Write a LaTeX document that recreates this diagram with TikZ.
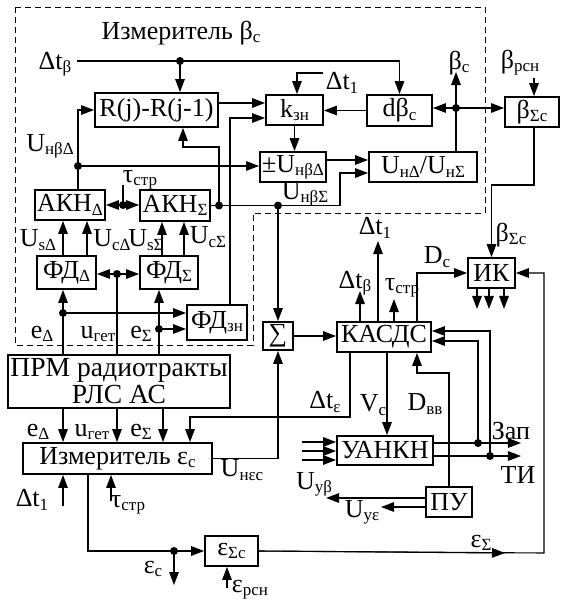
\documentclass[tikz,border=0pt]{standalone}
\usepackage{fontspec}
\setmainfont{Liberation Serif}
\usetikzlibrary{arrows.meta}
\newcommand{\ix}[1]{\raisebox{-1.6pt}{\fontsize{8.5}{9}\selectfont #1}}
\tikzset{
  blk/.style={draw, line width=0.95pt, inner sep=1pt, font=\fontsize{13}{14}\selectfont},
  lbl/.style={inner sep=0pt, font=\fontsize{13}{14}\selectfont},
  arr/.style={-{Triangle[length=6.5pt,width=4.8pt]}},
}
\begin{document}
\begin{tikzpicture}[x=0.5pt,y=-0.5pt,line width=0.55pt]
    \useasboundingbox (0,0) rectangle (562,600);
    % dashed frame of the beta meter
    \draw[dash pattern=on 3pt off 2pt,line width=0.5pt] (15,7) -- (485,7) -- (485,213) -- (253,213) -- (253,345) -- (15,345) -- cycle;
    \node[lbl] (tbeta) at (181,33) {Измеритель β\ix{c}};
    % blocks
    \node[blk,minimum width=61.5pt,minimum height=17pt] (R) at (156.5,110) {R(j)-R(j-1)};
    \node[blk,minimum width=28.5pt,minimum height=15pt] (kzn) at (294.5,110) {k\ix{зн}};
    \node[blk,minimum width=32.5pt,minimum height=15.5pt] (dbc) at (399.5,110.5) {dβ\ix{c}};
    \node[blk,minimum width=27pt,minimum height=15pt] (bsc) at (532,112) {β\ix{Σc}};
    \node[blk,minimum width=33pt,minimum height=15pt] (pmd) at (293,167) {±U\ix{нβΔ}};
    \node[blk,minimum width=54pt,minimum height=15pt] (upd) at (423,167) {U\ix{нΔ}/U\ix{нΣ}};
    \node[blk,minimum width=35pt,minimum height=15pt] (akd) at (70,205) {АКН\ix{Δ}};
    \node[blk,minimum width=35pt,minimum height=15.5pt] (aks) at (175,205.5) {АКН\ix{Σ}};
    \node[blk,minimum width=29.5pt,minimum height=16.5pt] (fdd) at (66.5,272.5) {ФД\ix{Δ}};
    \node[blk,minimum width=29pt,minimum height=16.5pt] (fds) at (169,272.5) {ФД\ix{Σ}};
    \node[blk,minimum width=30pt,minimum height=17.5pt] (fdz) at (217,322.5) {ФД\ix{зн}};
    \node[blk,minimum width=111pt,minimum height=26.5pt,align=center,font=\fontsize{13.8}{13.5}\selectfont] (prm) at (119,381.5) {ПРМ радиотракты\\РЛС АС};
    \node[blk,minimum width=94.5pt,minimum height=15.5pt] (ime) at (117.5,458.5) {Измеритель ε\ix{c}};
    \node[blk,minimum width=15pt,minimum height=14pt] (sig) at (278,336) {∑};
    \node[blk,minimum width=47pt,minimum height=15pt] (kas) at (384,337) {КАСДС};
    \node[blk,minimum width=23.5pt,minimum height=15pt] (ik) at (491.5,273) {ИК};
    \node[blk,minimum width=48pt,minimum height=14.5pt] (uan) at (385,450.5) {УАНКН};
    \node[blk,minimum width=23pt,minimum height=15pt] (pu) at (449,502) {ПУ};
    \node[blk,minimum width=26.5pt,minimum height=15pt] (esc) at (231.5,551) {ε\ix{Σc}};
    % junctions and free ends
    \coordinate (dtb) at (77,61);
    \coordinate (j1) at (180,61);
    \coordinate (j2) at (78,166);
    \coordinate (j3) at (219,205.5);
    \coordinate (j4) at (456,108);
    \coordinate (j5) at (278,205.5);
    \coordinate (j6) at (123,205);
    \coordinate (j7) at (117,274);
    \coordinate (j8) at (63,313);
    \coordinate (j9) at (159,329);
    \coordinate (j10) at (478,443);
    \coordinate (j11) at (490,456);
    \coordinate (j12) at (174,551);
    \coordinate (dt1a) at (323,73);
    \coordinate (tauA) at (123,185);
    \coordinate (bcA) at (456,72);
    \coordinate (brA) at (534,78);
    \coordinate (erA) at (227,588);
    \coordinate (ecA) at (174,585);
    \coordinate (eS) at (544,553);
    \coordinate (eSa) at (505,553);
    \coordinate (r1) at (183,147);
    \coordinate (r2) at (218,103);
    \coordinate (z1) at (230,118);
    \coordinate (b1) at (534,185);
    \coordinate (t1) at (190,417);
    \coordinate (d1) at (449,373);
    % delta t beta
    \draw (dtb) -- (j1);
    \draw[arr] (j1) -| (dbc.north);
    \draw[arr] (j1) -- (j1 |- R.north);
    \node[lbl] (ldtb) at (55,64) {Δt\ix{β}};
    % AKN outputs
    \draw (j2 |- akd.north) -- (j2);
    \draw[arr] (j2) |- (R.west);
    \draw[arr] (j2) -- (j2 -| pmd.west);
    \node[lbl] (lund) at (50,146) {U\ix{нβΔ}};
    \draw[arr] (aks.east) -- (j5) -- ++(31pt,0) |- ([yshift=-3pt]upd.west);
    \draw[arr] (j3) |- (r1) -- (r1 |- R.south);
    \draw[arr] (j5) -- (sig.north);
    \node[lbl] (lunsg) at (305,194) {U\ix{нβΣ}};
    % into k_zn
    \draw[arr] (z1 |- fdz.north) -- (z1) -- (z1 -| kzn.west);
    \draw[arr] (r2 -| R.east) -- (r2 -| kzn.west);
    \draw[arr] (dt1a) -| ([xshift=1.25pt]kzn.north);
    \node[lbl] (ldt1) at (342,83) {Δt\ix{1}};
    \draw[arr] (dbc.west) -- (dbc.west -| kzn.east);
    \draw[arr] (kzn.south) -- (kzn.south |- pmd.north);
    \draw[arr] ([yshift=3.5pt]pmd.east) -- ([yshift=3.5pt]upd.west);
    % beta_c node
    \draw (j4 |- upd.north) -- (j4);
    \draw[arr] (j4) -- (j4 -| dbc.east);
    \draw[arr] (j4) -- (bcA);
    \draw[arr] (j4) -- (j4 -| bsc.west);
    \node[lbl] (lbc) at (459,63) {β\ix{c}};
    \node[lbl] (lbr) at (520,63) {β\ix{рсн}};
    \draw[arr] (brA) -- (brA |- bsc.north);
    \draw[arr] (b1 |- bsc.south) -- (b1) -| (ik.north);
    \node[lbl] (lbsc) at (511,235) {β\ix{Σc}};
    % tau strobe
    \draw (tauA) -- (j6);
    \draw[arr] (j6) -- (j6 -| akd.east);
    \draw[arr] (j6) -- (j6 -| aks.west);
    \node[lbl] (ltau) at (140,180) {τ\ix{стр}};
    % FD -> AKN
    \foreach \s in {-1.75pt,10.25pt}
        \draw[arr] ([xshift=\s]fdd.north) -- ([xshift=\s]fdd.north |- akd.south);
    \foreach \s in {-3.5pt,7.5pt}
        \draw[arr] ([xshift=\s]fds.north) -- ([xshift=\s]fds.north |- aks.south);
    \node[lbl] (lusd) at (38,240) {U\ix{sΔ}};
    \node[lbl] (lucd) at (112,240) {U\ix{cΔ}};
    \node[lbl] (luss) at (146,240) {U\ix{sΣ}};
    \node[lbl] (lucs) at (208,237) {U\ix{cΣ}};
    % receiver outputs
    \draw (j7 |- prm.north) -- (j7);
    \draw[arr] (j7) -- (j7 -| fdd.east);
    \draw[arr] (j7) -- (j7 -| fds.west);
    \draw[arr] (j8 |- prm.north) -- (j8 |- fdd.south);
    \draw[arr] (j8) -- (j8 -| fdz.west);
    \draw[arr] (j9 |- prm.north) -- (j9 |- fds.south);
    \draw[arr] (j9) -- (j9 -| fdz.west);
    \node[lbl] (led1) at (42,334) {e\ix{Δ}};
    \node[lbl] (lug1) at (98,334) {u\ix{гет}};
    \node[lbl] (les1) at (141,334) {e\ix{Σ}};
    \foreach \s in {-28pt,-1pt,22pt}
        \draw[arr] ([xshift=\s]prm.south) -- ([xshift=\s]prm.south |- ime.north);
    \node[lbl] (led2) at (38,432) {e\ix{Δ}};
    \node[lbl] (lug2) at (92,432) {u\ix{гет}};
    \node[lbl] (les2) at (141,432) {e\ix{Σ}};
    % epsilon meter
    \draw[arr] ([xshift=-17pt]kas.south) |- (t1) -- (t1 |- ime.north);
    \node[lbl] (ldte) at (325,402) {Δt\ix{ε}};
    \draw[arr] (ime.east) -| (sig.south);
    \node[lbl] (lune) at (242,470) {U\ix{нεc}};
    \draw[arr] (sig.east) -- (sig.east -| kas.west);
    \draw[arr] ([xshift=-27.25pt,yshift=-15.5pt]ime.south) -- ([xshift=-27.25pt]ime.south);
    \draw[arr] ([xshift=-3.25pt,yshift=-13pt]ime.south) -- ([xshift=-3.25pt]ime.south);
    \node[lbl] (ldt1b) at (32,500) {Δt\ix{1}};
    \node[lbl] (ltaub) at (128,505) {τ\ix{стр}};
    \draw[arr] ([xshift=-14.75pt]ime.south) |- (j12) -- (esc.west);
    \draw[arr] (j12) -- (ecA);
    \node[lbl] (lec) at (153,569) {ε\ix{c}};
    \draw[arr] (erA) -- (erA |- esc.south);
    \node[lbl] (ler) at (250,590) {ε\ix{рсн}};
    % KASDS outputs
    \draw[arr] ([xshift=-12pt]kas.north) -- ++(0,15pt);
    \draw[arr] ([xshift=-3pt]kas.north) -- ++(0,40pt);
    \draw[arr] ([xshift=5pt]kas.north) -- ++(0,11pt);
    \draw[arr] ([xshift=16.5pt]kas.north) |- (ik.west);
    \node[lbl] (ldtb2) at (355,283) {Δt\ix{β}};
    \node[lbl] (ldt12) at (375,228) {Δt\ix{1}};
    \node[lbl] (ltau2) at (402,288) {τ\ix{стр}};
    \node[lbl] (ldc) at (437,257) {D\ix{c}};
    \foreach \s in {-7.25pt,-1.25pt,6.25pt}
        \draw[arr] ([xshift=\s]ik.south) -- ++(0,-10pt);
    \draw[arr] (esc.east) -- (eS) |- (ik.east);
    \draw[arr] (esc.east) -- (eSa);
    \node[lbl] (lesg) at (481,543) {ε\ix{Σ}};
    \draw[arr] ([xshift=1.5pt]kas.south) -- ([xshift=1.5pt]kas.south |- uan.north);
    \node[lbl] (lvc) at (373,405) {V\ix{c}};
    \draw[arr] (pu.north) -- (d1) -| ([xshift=16.5pt]kas.south);
    \node[lbl] (ldvv) at (425,404) {D\ix{вв}};
    % UANKN
    \foreach \s in {4.25pt,-0.25pt,-4.75pt}
        \draw[arr] ([xshift=-17pt,yshift=\s]uan.west) -- ([yshift=\s]uan.west);
    \draw[arr] ([yshift=3.75pt]uan.east) -- ++(43.5pt,0);
    \draw[arr] ([yshift=-2.75pt]uan.east) -- ++(43.5pt,0);
    \draw[arr] (j10) |- ([yshift=-2pt]kas.east);
    \draw[arr] (j11) |- ([yshift=3pt]kas.east);
    \node[lbl] (lzap) at (511,431) {Зап};
    \node[lbl] (lti) at (518,475) {ТИ};
    % PU outputs
    \draw[arr] ([yshift=2pt]pu.west) -- ++(-49.5pt,0);
    \draw[arr] ([yshift=-2.5pt]pu.west) -- ++(-22pt,0);
    \node[lbl] (luyb) at (314,484) {U\ix{yβ}};
    \node[lbl] (luye) at (362,512) {U\ix{yε}};
    % junction dots
    \foreach \p in {j1,j2,j3,j4,j5,j6,j7,j8,j9,j10,j11,j12}
        \fill (\p) circle (2pt);
\end{tikzpicture}
\end{document}
